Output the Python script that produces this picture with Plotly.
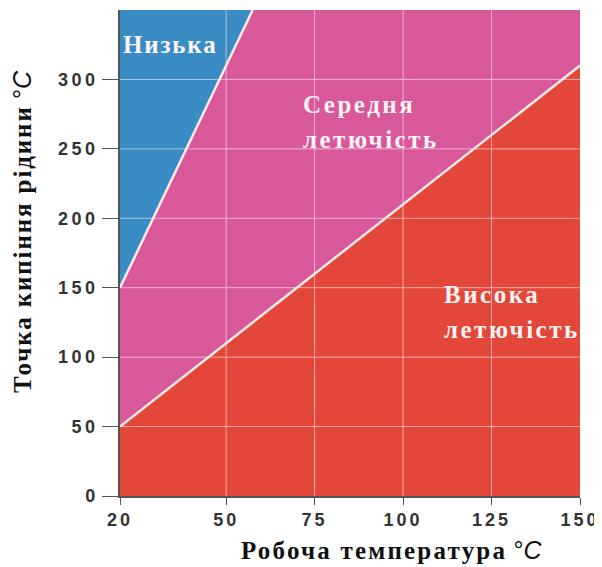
import plotly.graph_objects as go

# ---- data ----
temp_range = [20, 150]                 # working temperature (°C)
high_low_boundary = [50, 310]          # boundary between high and medium volatility
low_boundary_x = [20, 57.5]            # boundary between medium and low volatility
low_boundary_y = [150, 350]
y_top = 350

x_ticks = [20, 50, 75, 100, 125, 150]
y_ticks = [0, 50, 100, 150, 200, 250, 300]

RED = "#e2473a"
PINK = "#d8589a"
BLUE = "#3a8cc4"

def spaced(txt, px):
    return f"<span style='letter-spacing:{px}px'>{txt}</span>"

fig = go.Figure()

# high volatility (red)
fig.add_trace(go.Scatter(x=temp_range, y=high_low_boundary, mode="lines",
                         line=dict(width=0, color=RED), fill="tozeroy",
                         fillcolor=RED, hoverinfo="skip"))
# medium volatility (pink) up to the top
fig.add_trace(go.Scatter(x=temp_range, y=[y_top, y_top], mode="lines",
                         line=dict(width=0, color=PINK), fill="tonexty",
                         fillcolor=PINK, hoverinfo="skip"))
# low volatility (blue)
fig.add_trace(go.Scatter(x=low_boundary_x + [low_boundary_x[0]],
                         y=low_boundary_y + [y_top], mode="lines",
                         line=dict(width=0, color=BLUE), fill="toself",
                         fillcolor=BLUE, hoverinfo="skip"))
# white boundary lines
fig.add_trace(go.Scatter(x=temp_range, y=high_low_boundary, mode="lines",
                         line=dict(width=2.5, color="#fbe9e6"), hoverinfo="skip"))
fig.add_trace(go.Scatter(x=low_boundary_x, y=low_boundary_y, mode="lines",
                         line=dict(width=2.5, color="#fbe9e6"), hoverinfo="skip"))

grid_color = "rgba(255,235,240,0.6)"
shapes = []
for xv in x_ticks[1:-1]:
    shapes.append(dict(type="line", xref="x", yref="y", x0=xv, x1=xv, y0=0, y1=y_top,
                       line=dict(color=grid_color, width=1), layer="above"))
for yv in y_ticks[1:]:
    shapes.append(dict(type="line", xref="x", yref="y", x0=temp_range[0], x1=temp_range[1],
                       y0=yv, y1=yv, line=dict(color=grid_color, width=1), layer="above"))

serif = "Liberation Serif, Times New Roman, serif"
label_font = dict(family=serif, size=25, color="#fdf3f3", weight="bold")

annotations = [
    dict(x=20.3, y=325, text=spaced("Низька", 1.8)),
    dict(x=71.2, y=282, text=spaced("Середня", 2.5)),
    dict(x=71.2, y=257, text=spaced("летючість", 2.5)),
    dict(x=111, y=145, text=spaced("Висока", 2.5)),
    dict(x=111, y=120, text=spaced("летючість", 2.5)),
]
for a in annotations:
    a.update(xref="x", yref="y", xanchor="left", yanchor="middle", showarrow=False,
             font=label_font)

title_font = dict(family=serif, size=25, color="#111111", weight="bold")
deg_c = "<span style='font-family:Liberation Sans;font-weight:normal'>°<i>C</i></span>"
annotations.append(dict(
    xref="paper", yref="paper", x=(391 - 120) / 460, y=0, yanchor="middle", yshift=-54,
    showarrow=False, font=title_font,
    text=spaced("Робоча температура", 2.2) + " " + deg_c))
annotations.append(dict(
    xref="paper", yref="paper", x=(22 - 120) / 460, y=(496 - 232) / 486,
    xanchor="center", yanchor="middle",
    textangle=-90, showarrow=False, font=title_font,
    text=spaced("Точка кипіння рідини", 1.9) + " " + deg_c))

tick_font = dict(family="Liberation Sans, Arial, sans-serif", size=18, color="#333333",
                 weight="bold")

# the page body has an 8px margin, so the figure is offset by 8px
fig.update_layout(
    width=594, height=559,
    margin=dict(l=112, r=22, t=2, b=71, autoexpand=False),
    paper_bgcolor="white", plot_bgcolor="white",
    showlegend=False,
    shapes=shapes, annotations=annotations,
    xaxis=dict(range=temp_range, tickvals=x_ticks,
               ticktext=[spaced(str(v), 3) for v in x_ticks],
               showgrid=False, zeroline=False, showline=True, linecolor="#555555",
               linewidth=1.5, ticks="outside", ticklen=7, tickcolor="#555555",
               tickfont=tick_font, layer="above traces"),
    yaxis=dict(range=[0, y_top], tickvals=y_ticks,
               ticktext=[spaced(str(v), 3.5) for v in y_ticks],
               showgrid=False, zeroline=False, showline=True, linecolor="#555555",
               linewidth=1.5, ticks="outside", ticklen=16, tickcolor="#555555",
               tickfont=tick_font, layer="above traces"),
)

fig.write_html("out.html")
